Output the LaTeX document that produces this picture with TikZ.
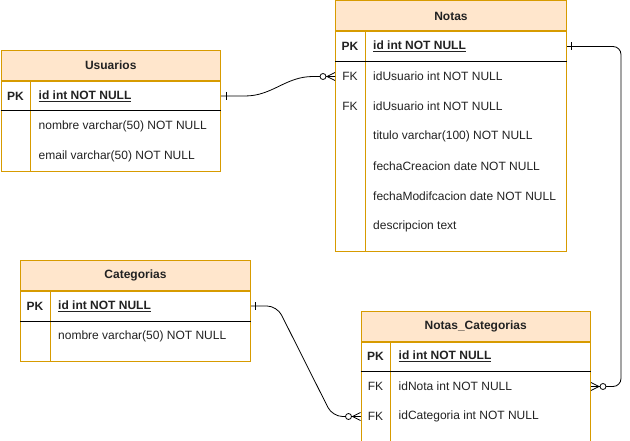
\documentclass[tikz,border=0pt]{standalone}
\usepackage{fontspec}
\setmainfont{Liberation Sans}
\usetikzlibrary{positioning,calc}

\definecolor{tabfill}{HTML}{FFE6CC}
\definecolor{tabline}{HTML}{D79B00}
\definecolor{txtcol}{HTML}{222222}

\tikzset{
  tabhead/.style={draw=tabline, fill=tabfill, line width=1pt, inner sep=0pt,
    minimum height=30pt, font=\fontsize{12}{14}\selectfont\bfseries, anchor=north west},
  tabbody/.style={draw=tabline, fill=white, line width=1pt, inner sep=0pt, anchor=north west},
  keytxt/.style={inner sep=0pt, anchor=center},
  fieldtxt/.style={inner sep=0pt, anchor=west},
  pkline/.style={line width=1pt, black},
  colline/.style={line width=1pt, tabline},
  rel/.style={line width=0.8pt, black},
  pics/onemark/.style={code={\draw[rel] (0,-4) -- (0,4);}},
  pics/manymark/.style={code={
    \draw[rel] (-8,0) -- (0,-4) (-8,0) -- (0,4) (-8,0) -- (0,0);
    \draw[rel, fill=white] (-12,0) circle (3pt);}},
}

\begin{document}
\begin{tikzpicture}[x=1pt, y=-1pt, font=\fontsize{12}{14}\selectfont, every node/.append style={text=txtcol}]
  \useasboundingbox (0,0) rectangle (630,441);

  % Usuarios
  \node[tabhead, minimum width=219.5pt] (usu) at (0.5,50) {Usuarios};
  \node[tabbody, minimum width=219.5pt, minimum height=90pt] (usub) at (usu.south west) {};
  \draw[colline] ($(usub.north west)+(30,0)$) -- ($(usub.south west)+(30,0)$);
  \draw[pkline] ($(usub.north west)+(0,30)$) -- ($(usub.north east)+(0,30)$);
  \node[keytxt, font=\fontsize{12}{14}\selectfont\bfseries] (usu-pk) at ($(usub.north west)+(15,15)$) {PK};
  \node[fieldtxt, font=\fontsize{12}{14}\selectfont\bfseries] (usu-f0) at ($(usub.north west)+(38,15)$) {\underline{id int NOT NULL}};
  \node[fieldtxt] (usu-f1) at ($(usub.north west)+(38,45)$) {nombre varchar(50) NOT NULL};
  \node[fieldtxt] (usu-f2) at ($(usub.north west)+(38,75)$) {email varchar(50) NOT NULL};

  % Notas
  \node[tabhead, minimum width=231pt] (not) at (335,0.5) {Notas};
  \node[tabbody, minimum width=231pt, minimum height=219.5pt] (notb) at (not.south west) {};
  \draw[colline] ($(notb.north west)+(30,0)$) -- ($(notb.south west)+(30,0)$);
  \draw[pkline] ($(notb.north west)+(0,30)$) -- ($(notb.north east)+(0,30)$);
  \node[keytxt, font=\fontsize{12}{14}\selectfont\bfseries] (not-pk) at ($(notb.north west)+(15,15)$) {PK};
  \node[fieldtxt, font=\fontsize{12}{14}\selectfont\bfseries] (not-f0) at ($(notb.north west)+(38,15)$) {\underline{id int NOT NULL}};
  \node[keytxt] (not-fk1) at ($(notb.north west)+(15,45)$) {FK};
  \node[keytxt] (not-fk2) at ($(notb.north west)+(15,75)$) {FK};
  \foreach \ftxt [count=\i] in {idUsuario int NOT NULL, idUsuario int NOT NULL,
      titulo varchar(100) NOT NULL, fechaCreacion date NOT NULL,
      fechaModifcacion date NOT NULL, descripcion text}
    \node[fieldtxt] (not-f\i) at ($(notb.north west)+(38,15+30*\i)$) {\ftxt};

  % Categorias
  \node[tabhead, minimum width=230pt] (cat) at (20,260) {Categorias};
  \node[tabbody, minimum width=230pt, minimum height=70pt] (catb) at (cat.south west) {};
  \draw[colline] ($(catb.north west)+(30,0)$) -- ($(catb.south west)+(30,0)$);
  \draw[pkline] ($(catb.north west)+(0,30)$) -- ($(catb.north east)+(0,30)$);
  \node[keytxt, font=\fontsize{12}{14}\selectfont\bfseries] (cat-pk) at ($(catb.north west)+(15,15)$) {PK};
  \node[fieldtxt, font=\fontsize{12}{14}\selectfont\bfseries] (cat-f0) at ($(catb.north west)+(38,15)$) {\underline{id int NOT NULL}};
  \node[fieldtxt] (cat-f1) at ($(catb.north west)+(38,45)$) {nombre varchar(50) NOT NULL};

  % Notas_Categorias
  \node[tabhead, minimum width=229.5pt] (nc) at (360.5,310.5) {Notas\_Categorias};
  \node[tabbody, minimum width=229.5pt, minimum height=99pt] (ncb) at (nc.south west) {};
  \draw[colline] ($(ncb.north west)+(30,0)$) -- ($(ncb.south west)+(30,0)$);
  \draw[pkline] ($(ncb.north west)+(0,30)$) -- ($(ncb.north east)+(0,30)$);
  \node[keytxt, font=\fontsize{12}{14}\selectfont\bfseries] (nc-pk) at ($(ncb.north west)+(15,15)$) {PK};
  \node[fieldtxt, font=\fontsize{12}{14}\selectfont\bfseries] (nc-f0) at ($(ncb.north west)+(38,15)$) {\underline{id int NOT NULL}};
  \node[keytxt] (nc-fk1) at ($(ncb.north west)+(15,45)$) {FK};
  \node[keytxt] (nc-fk2) at ($(ncb.north west)+(15,75)$) {FK};
  \node[fieldtxt] (nc-f1) at ($(ncb.north west)+(38,45)$) {idNota int NOT NULL};
  \node[fieldtxt] (nc-f2) at ($(ncb.north west)+(38,75)$) {idCategoria int NOT NULL};

  % relaciones
  \draw[rel] (usub.east |- usu-pk) -- ++(24,0) to[out=0,in=180] ($(notb.west |- not-fk1)+(-22,0)$) -- (notb.west |- not-fk1);
  \pic at ($(usub.east |- usu-pk)+(5,0)$) {onemark};
  \pic at (notb.west |- not-fk1) {manymark};

  \draw[rel, rounded corners=8pt] (notb.east |- not-pk) -- ++(54,0) |- (ncb.east |- nc-fk1);
  \pic at ($(notb.east |- not-pk)+(4,0)$) {onemark};
  \pic[rotate=180] at (ncb.east |- nc-fk1) {manymark};

  \draw[rel, rounded corners=10pt] (catb.east |- cat-pk) -- ++(26,0) -- ($(ncb.west |- nc-fk2)+(-28,0)$) -- (ncb.west |- nc-fk2);
  \pic at ($(catb.east |- cat-pk)+(4,0)$) {onemark};
  \pic at (ncb.west |- nc-fk2) {manymark};
\end{tikzpicture}
\end{document}
